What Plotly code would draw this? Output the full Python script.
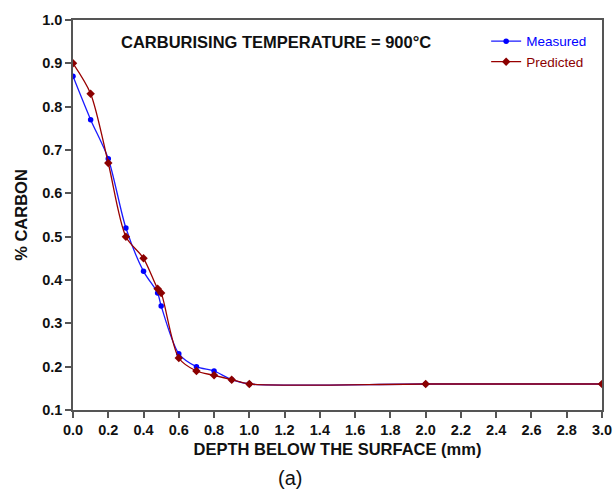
import plotly.graph_objects as go

depth_measured = [0.0, 0.1, 0.2, 0.3, 0.4, 0.48, 0.5, 0.6, 0.7, 0.8, 0.9, 1.0, 2.0, 3.0]
carbon_measured = [0.87, 0.77, 0.68, 0.52, 0.42, 0.37, 0.34, 0.23, 0.20, 0.19, 0.17, 0.16, 0.16, 0.16]

depth_predicted = [0.0, 0.1, 0.2, 0.3, 0.4, 0.48, 0.5, 0.6, 0.7, 0.8, 0.9, 1.0, 2.0, 3.0]
carbon_predicted = [0.90, 0.83, 0.67, 0.50, 0.45, 0.38, 0.37, 0.22, 0.19, 0.18, 0.17, 0.16, 0.16, 0.16]

FONT = "Liberation Sans, Arial, sans-serif"

fig = go.Figure()
fig.add_trace(go.Scatter(
    x=depth_measured, y=carbon_measured, mode="lines+markers",
    name="<span style='color:#0000ff'>Measured</span>",
    line=dict(color="#1a1aff", width=1.3, shape="spline", smoothing=0.8),
    marker=dict(symbol="circle", size=5.5, color="#0000ff"),
))
fig.add_trace(go.Scatter(
    x=depth_predicted, y=carbon_predicted, mode="lines+markers",
    name="<span style='color:#8b0000'>Predicted</span>",
    line=dict(color="#990000", width=1.3, shape="spline", smoothing=0.8),
    marker=dict(symbol="diamond", size=6.5, color="#8b0000"),
))

fig.update_layout(
    width=614, height=494,
    margin=dict(l=73, r=12, t=20, b=84),
    paper_bgcolor="white", plot_bgcolor="white",
    font=dict(family=FONT, size=13, color="#111"),
    showlegend=True,
    legend=dict(x=0.781, y=0.985, xanchor="left", yanchor="top",
                bgcolor="rgba(0,0,0,0)", font=dict(size=13.5, family=FONT),
                tracegroupgap=0, itemwidth=30),
    xaxis=dict(range=[0, 3.0], dtick=0.2, tick0=0, tickformat=".1f",
               showgrid=False, zeroline=False, automargin=False,
               showline=True, linecolor="#555", linewidth=1.5, mirror=True,
               ticks="outside", ticklen=6, tickcolor="#555", tickwidth=1.5,
               tickfont=dict(size=14.5, family=FONT, color="#111", weight="bold"),
               title=dict(text="<b>DEPTH BELOW THE SURFACE (mm)</b>", standoff=6,
                          font=dict(size=16.5, family=FONT, color="#111"))),
    yaxis=dict(range=[0.1, 1.0], dtick=0.1, tick0=0.1, tickformat=".1f",
               showgrid=False, zeroline=False, automargin=False,
               showline=True, linecolor="#555", linewidth=1.5, mirror=True,
               ticks="outside", ticklen=6, tickcolor="#555", tickwidth=1.5,
               tickfont=dict(size=14.5, family=FONT, color="#111", weight="bold"),
               title=dict(text="<b>% CARBON</b>", standoff=10,
                          font=dict(size=16.5, family=FONT, color="#111"))),
    annotations=[
        dict(text="<b>CARBURISING TEMPERATURE = 900°C</b>", xref="paper", yref="paper",
             x=0.383, y=0.944, xanchor="center", yanchor="middle", showarrow=False,
             font=dict(size=16.5, family=FONT, color="#111")),
        dict(text="(a)", xref="paper", yref="paper",
             x=0.41, y=-0.175, xanchor="center", yanchor="middle", showarrow=False,
             font=dict(size=20, family=FONT, color="#111")),
    ],
)

fig.write_html("out.html")
